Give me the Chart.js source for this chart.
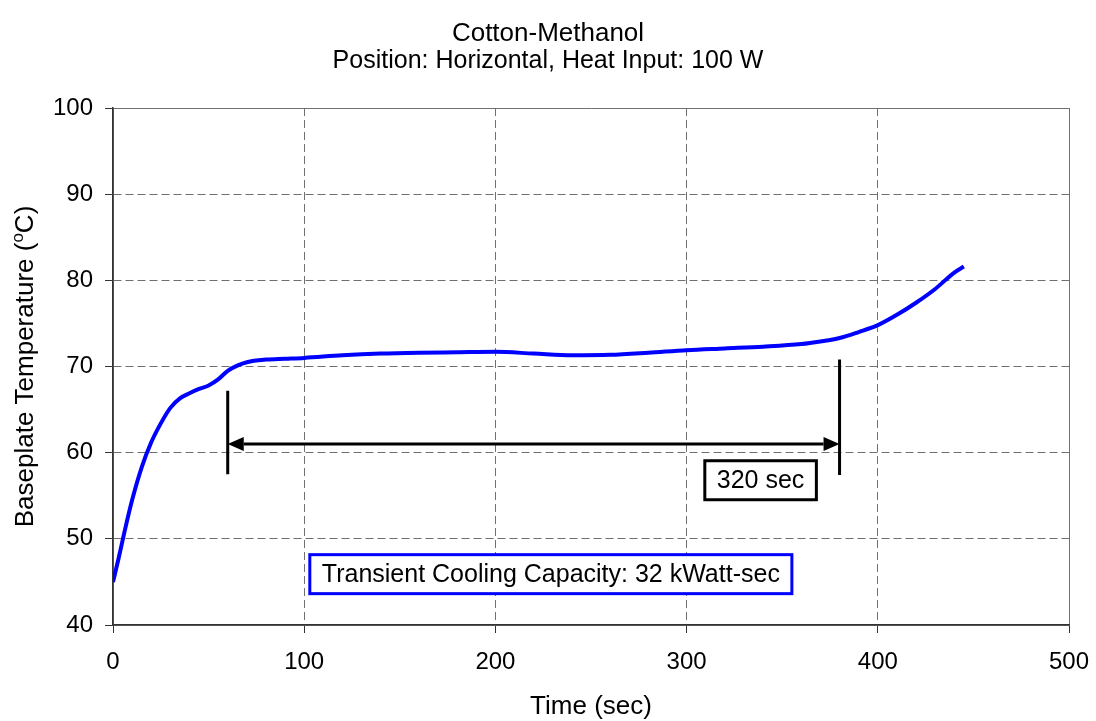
<!DOCTYPE html>
<html>
<head>
<meta charset="utf-8">
<title>Cotton-Methanol</title>
<script src="https://cdn.jsdelivr.net/npm/chart.js@4/dist/chart.umd.min.js"></script>
<style>
  html, body { margin: 0; padding: 0; background: #fff; }
  #wrap { width: 1096px; height: 721px; }
</style>
</head>
<body>
<div id="wrap"><canvas id="grafico" width="1096" height="721"></canvas></div>
<script>
// temperatura de la placa base frente al tiempo
const tiempos = [0, 3, 6, 10, 15, 20, 25, 30, 35, 40, 45, 50, 55, 60, 65, 70, 80, 90, 100,
  120, 140, 160, 180, 200, 220, 240, 260, 280, 300, 320, 340, 360, 370, 380, 390, 400,
  410, 420, 430, 440, 445];
const temperaturas = [45.0, 47.8, 50.8, 54.5, 58.3, 61.2, 63.4, 65.2, 66.3, 66.9, 67.4, 67.8,
  68.5, 69.5, 70.1, 70.5, 70.8, 70.9, 71.0, 71.3, 71.5, 71.6, 71.65, 71.7, 71.5, 71.3, 71.35,
  71.6, 71.9, 72.1, 72.3, 72.6, 72.9, 73.3, 74.0, 74.8, 76.0, 77.4, 79.0, 80.9, 81.6];

const ticksX = [0, 100, 200, 300, 400, 500];
const ticksY = [40, 50, 60, 70, 80, 90, 100];

const titulo = "Cotton-Methanol";
const subtitulo = "Position: Horizontal, Heat Input: 100 W";
const tituloX = "Time (sec)";

// intervalo marcado con la flecha
const marcaInicio = 60;
const marcaFin = 380;
const marcaInicioRango = [57.5, 67.2];
const marcaFinRango = [57.4, 70.8];
const flechaTemp = 61;
const textoIntervalo = "320 sec";
const textoIntervaloPos = [338.7, 56.8];
const textoCapacidad = "Transient Cooling Capacity: 32 kWatt-sec";
const textoCapacidadPos = [229, 45.9];

const FUENTE = "'Liberation Sans', Arial, sans-serif";

// solo los bordes del área quedan sólidos
const dashGrid = (ctx) => {
  const v = ctx.tick && ctx.tick.value;
  if (ctx.scale.axis === "y" && (v === 100 || v === 40)) return [];
  if (ctx.scale.axis === "x" && (v === 500 || v === 0)) return [];
  return [8, 4];
};

const plugTextos = {
  id: "textos",
  afterDatasetsDraw(chart) {
    const { ctx, scales: { x, y }, chartArea } = chart;
    ctx.save();

    // líneas de marca y flecha
    ctx.strokeStyle = "#000";
    ctx.fillStyle = "#000";
    ctx.lineWidth = 3;
    const xa = x.getPixelForValue(marcaInicio);
    const xb = x.getPixelForValue(marcaFin);
    ctx.beginPath();
    ctx.moveTo(xa, y.getPixelForValue(marcaInicioRango[0]));
    ctx.lineTo(xa, y.getPixelForValue(marcaInicioRango[1]));
    ctx.moveTo(xb, y.getPixelForValue(marcaFinRango[0]));
    ctx.lineTo(xb, y.getPixelForValue(marcaFinRango[1]));
    ctx.stroke();

    const yf = y.getPixelForValue(flechaTemp);
    const largo = 16, alto = 7;
    ctx.beginPath();
    ctx.moveTo(xa + largo, yf);
    ctx.lineTo(xb - largo, yf);
    ctx.stroke();
    ctx.beginPath();
    ctx.moveTo(xa, yf);
    ctx.lineTo(xa + largo, yf - alto);
    ctx.lineTo(xa + largo, yf + alto);
    ctx.closePath();
    ctx.fill();
    ctx.beginPath();
    ctx.moveTo(xb, yf);
    ctx.lineTo(xb - largo, yf - alto);
    ctx.lineTo(xb - largo, yf + alto);
    ctx.closePath();
    ctx.fill();

    // cajas de texto
    const caja = (texto, pos, color, grosor) => {
      ctx.font = "25px " + FUENTE;
      const w = ctx.measureText(texto).width + 24;
      const h = 39;
      const cx = x.getPixelForValue(pos[0]);
      const cy = y.getPixelForValue(pos[1]);
      ctx.fillStyle = "#fff";
      ctx.fillRect(cx - w / 2, cy - h / 2, w, h);
      ctx.lineWidth = grosor;
      ctx.strokeStyle = color;
      ctx.strokeRect(cx - w / 2, cy - h / 2, w, h);
      ctx.fillStyle = "#000";
      ctx.textAlign = "center";
      ctx.textBaseline = "middle";
      ctx.fillText(texto, cx, cy + 1);
    };
    caja(textoIntervalo, textoIntervaloPos, "#000", 3);
    caja(textoCapacidad, textoCapacidadPos, "#0000ff", 3);

    // títulos
    ctx.fillStyle = "#000";
    ctx.textAlign = "center";
    ctx.textBaseline = "middle";
    ctx.font = "26px " + FUENTE;
    ctx.fillText(titulo, chart.width / 2, 34);
    ctx.font = "25px " + FUENTE;
    ctx.fillText(subtitulo, chart.width / 2, 61);

    ctx.font = "26px " + FUENTE;
    ctx.fillText(tituloX, (chartArea.left + chartArea.right) / 2, 707);

    // título del eje Y con la "o" en superíndice
    const p1 = "Baseplate Temperature (";
    const p2 = "o";
    const p3 = "C)";
    ctx.font = "26px " + FUENTE;
    const w1 = ctx.measureText(p1).width;
    const w3 = ctx.measureText(p3).width;
    ctx.font = "17px " + FUENTE;
    const w2 = ctx.measureText(p2).width;
    const total = w1 + w2 + w3;
    ctx.translate(26, (chartArea.top + chartArea.bottom) / 2);
    ctx.rotate(-Math.PI / 2);
    ctx.textAlign = "left";
    ctx.font = "26px " + FUENTE;
    let px = -total / 2;
    ctx.fillText(p1, px, 0);
    px += w1;
    ctx.font = "17px " + FUENTE;
    ctx.fillText(p2, px, -8);
    px += w2;
    ctx.font = "26px " + FUENTE;
    ctx.fillText(p3, px, 0);

    ctx.restore();
  }
};

new Chart(document.getElementById("grafico"), {
  type: "line",
  data: {
    datasets: [{
      data: tiempos.map((t, i) => ({ x: t, y: temperaturas[i] })),
      borderColor: "#0000ff",
      borderWidth: 4,
      pointRadius: 0,
      fill: false,
      cubicInterpolationMode: "monotone"
    }]
  },
  options: {
    responsive: false,
    animation: false,
    devicePixelRatio: 1,
    layout: { padding: { left: 0, right: 27, top: 108, bottom: 0 } },
    plugins: { legend: { display: false }, tooltip: { enabled: false } },
    scales: {
      x: {
        type: "linear",
        min: 0,
        max: 500,
        afterBuildTicks: (s) => { s.ticks = ticksX.map(v => ({ value: v })); },
        afterFit: (s) => { s.height = 96; s.paddingLeft = 0; s.paddingRight = 0; },
        ticks: { color: "#000", padding: 15, font: { size: 24, family: FUENTE }, maxRotation: 0 },
        grid: { color: "#707070", lineWidth: 1, tickLength: 8, tickColor: "#333" },
        border: { color: "#333", width: 1.5, dash: dashGrid }
      },
      y: {
        type: "linear",
        min: 40,
        max: 100,
        afterBuildTicks: (s) => { s.ticks = ticksY.map(v => ({ value: v })); },
        afterFit: (s) => { s.width = 113; s.paddingTop = 0; s.paddingBottom = 0; },
        ticks: { color: "#000", padding: 12, font: { size: 24, family: FUENTE } },
        grid: { color: "#707070", lineWidth: 1, tickLength: 8, tickColor: "#333" },
        border: { color: "#333", width: 1.5, dash: dashGrid }
      }
    }
  },
  plugins: [plugTextos]
});
</script>
</body>
</html>
